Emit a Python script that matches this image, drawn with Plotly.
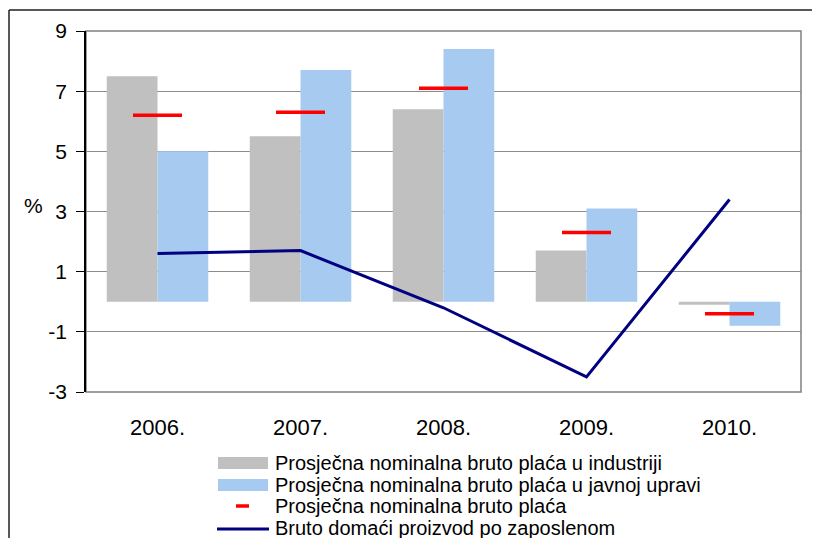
import plotly.graph_objects as go

years = ["2006.", "2007.", "2008.", "2009.", "2010."]

# series values, %
industry = [7.5, 5.5, 6.4, 1.7, -0.1]
public_admin = [5.0, 7.7, 8.4, 3.1, -0.8]
avg_wage = [6.2, 6.3, 7.1, 2.3, -0.4]
gdp_per_employee = [1.6, 1.7, -0.2, -2.5, 3.4]

names = [
    "Prosječna nominalna bruto plaća u industriji",
    "Prosječna nominalna bruto plaća u javnoj upravi",
    "Prosječna nominalna bruto plaća",
    "Bruto domaći proizvod po zaposlenom",
]

y_ticks = [-3, -1, 1, 3, 5, 7, 9]
y_tick_text = ["-3", "-1", "1", "3", "5", "7", "9"]

GREY = "#c0c0c0"
BLUE = "#a6caf0"
RED = "#ff0000"
NAVY = "#000080"
FONT = "Liberation Sans, Arial, sans-serif"

# plot area in page pixels; the page body adds an 8px margin around the figure
OFF = 8
L, R, T, B = 86, 801, 31, 392
W, H = 820 - OFF, 538 - OFF


def px(x):
    return (x - L) / (R - L)


def py(y):
    return (B - y) / (B - T)


fig = go.Figure()
fig.add_trace(go.Bar(x=years, y=industry, name=names[0], marker_color=GREY,
                     marker_line_width=0))
fig.add_trace(go.Bar(x=years, y=public_admin, name=names[1], marker_color=BLUE,
                     marker_line_width=0))
fig.add_trace(go.Scatter(x=years, y=gdp_per_employee, name=names[3], mode="lines",
                         line=dict(color=NAVY, width=3)))
fig.add_trace(go.Scatter(x=years, y=avg_wage, name=names[2], mode="markers",
                         marker=dict(symbol="line-ew", size=35,
                                     line=dict(color=RED, width=3.5))))

fig.update_layout(
    width=W, height=H,
    margin=dict(l=L - OFF, r=W - (R - OFF), t=T - OFF, b=H - (B - OFF)),
    paper_bgcolor="white", plot_bgcolor="white",
    barmode="group", bargap=0.29, bargroupgap=0,
    showlegend=False,
    font=dict(family=FONT, color="black"),
    xaxis=dict(type="category", range=[-0.5, 4.5], showgrid=False, ticks="",
               showline=False, tickfont=dict(size=22), ticklabelstandoff=20,
               zeroline=False),
    xaxis2=dict(overlaying="x", anchor="free", position=0.25, range=[-0.5, 4.5],
                tick0=-0.5, dtick=0.5, ticks="outside", ticklen=6, tickcolor="black",
                showticklabels=False, showline=True, linecolor="black", linewidth=1.5,
                showgrid=False, zeroline=False),
    yaxis=dict(range=[-3, 9], tickvals=y_ticks, ticktext=y_tick_text, showgrid=True,
               gridcolor="#8c8c8c", gridwidth=1, zeroline=False, showline=True,
               linecolor="black", linewidth=1.5, ticks="outside", ticklen=8,
               tickcolor="black", tickfont=dict(size=21), ticklabelstandoff=5),
)

line_style = dict(color="#202020", width=1.5)
shapes = [
    # plot area frame
    dict(type="rect", xref="paper", yref="paper", x0=0, x1=1, y0=0, y1=1,
         line=dict(color="#808080", width=1.5), layer="below"),
    # outer chart border, runs off the image on the right and bottom
    dict(type="line", xref="paper", yref="paper", x0=px(9), x1=px(9), y0=py(545), y1=py(10),
         line=line_style),
    dict(type="line", xref="paper", yref="paper", x0=px(9), x1=px(830), y0=py(10), y1=py(10),
         line=line_style),
    # legend swatches
    dict(type="rect", xref="paper", yref="paper", x0=px(218), x1=px(268), y0=py(469), y1=py(457),
         fillcolor=GREY, line_width=0),
    dict(type="rect", xref="paper", yref="paper", x0=px(218), x1=px(268), y0=py(491), y1=py(479),
         fillcolor=BLUE, line_width=0),
    dict(type="line", xref="paper", yref="paper", x0=px(236), x1=px(249), y0=py(506), y1=py(506),
         line=dict(color=RED, width=3.5)),
    dict(type="line", xref="paper", yref="paper", x0=px(217), x1=px(269), y0=py(529), y1=py(529),
         line=dict(color=NAVY, width=3)),
]
fig.update_layout(shapes=shapes)

fig.add_annotation(text="%", xref="paper", yref="y", x=px(33), y=3.2, xanchor="center",
                   showarrow=False, font=dict(size=21))
for i, row_y in enumerate([463, 485, 506, 528]):
    fig.add_annotation(text=names[i], xref="paper", yref="paper", x=px(273), y=py(row_y),
                       xanchor="left", yanchor="middle", showarrow=False,
                       font=dict(size=20))

fig.write_html("out.html")
